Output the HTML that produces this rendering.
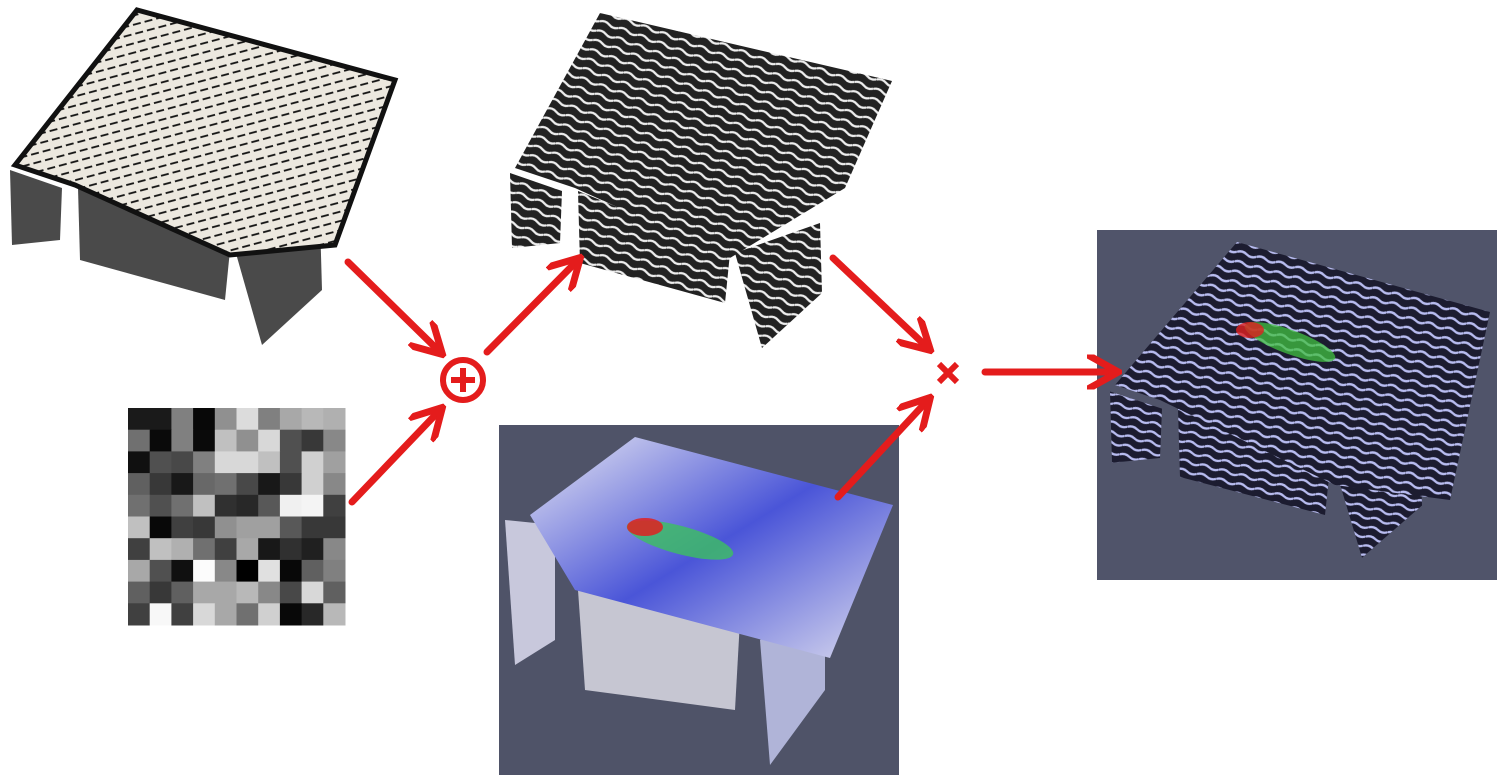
<!DOCTYPE html>
<html><head><meta charset="utf-8"><style>
html,body{margin:0;padding:0;background:#fff;width:1497px;height:775px;overflow:hidden;font-family:"Liberation Sans",sans-serif}
</style></head><body>
<svg width="1497" height="775" viewBox="0 0 1497 775">
<defs>
 <pattern id="lic" width="20" height="10" patternUnits="userSpaceOnUse" patternTransform="rotate(20)">
  <rect width="20" height="10" fill="#222"/>
  <path d="M0 3 Q5 0 10 3 T20 3" stroke="#eee" stroke-width="2.2" fill="none"/>
 </pattern>
 <pattern id="licb" width="20" height="10" patternUnits="userSpaceOnUse" patternTransform="rotate(15)">
  <rect width="20" height="10" fill="#1c1c30"/>
  <path d="M0 3 Q5 0 10 3 T20 3" stroke="#b8bcf0" stroke-width="2.4" fill="none"/>
 </pattern>
 <pattern id="vec" width="12" height="9" patternUnits="userSpaceOnUse" patternTransform="rotate(-15)">
  <rect width="12" height="9" fill="#ece8df"/>
  <path d="M2 4.5 L10 4.5" stroke="#111" stroke-width="1.8"/>
 </pattern>
 <linearGradient id="blu" x1="0" y1="0" x2="1" y2="1">
  <stop offset="0" stop-color="#e8e8f2"/><stop offset="0.5" stop-color="#4a55d8"/><stop offset="1" stop-color="#dcdcee"/>
 </linearGradient>
 <g id="box-shape">
  <polygon points="10,170 62,188 60,240 12,245"/>
  <polygon points="78,188 230,250 225,300 80,260"/>
  <polygon points="235,250 320,220 322,290 262,345"/>
 </g>
 <marker id="ah" viewBox="0 0 10 10" refX="8" refY="5" markerWidth="5" markerHeight="5" orient="auto">
  <path d="M0 0 L9 5 L0 10" fill="none" stroke="#e41c1c" stroke-width="2"/>
 </marker>
</defs>

<g>
 <use href="#box-shape" fill="#4a4a4a"/>
 <polygon points="15,165 137,10 395,80 335,245 230,255 75,185" fill="url(#vec)" stroke="#111" stroke-width="5"/>
</g>

<g id="noise"></g>

<g transform="translate(500,3)">
 <use href="#box-shape" fill="url(#lic)"/>
 <polygon points="15,165 100,10 392,78 345,185 230,255 75,185" fill="url(#lic)"/>
</g>

<g>
 <rect x="499" y="425" width="400" height="350" fill="#4f5368"/>
 <polygon points="505,520 555,525 555,640 515,665" fill="#c8c8dc"/>
 <polygon points="578,590 740,620 735,710 585,690" fill="#c6c6d2"/>
 <polygon points="760,640 825,600 825,690 770,765" fill="#b0b4d8"/>
 <polygon points="530,515 635,437 893,505 830,658 575,590" fill="url(#blu)"/>
 <ellipse cx="680" cy="540" rx="55" ry="14" fill="#3cc060" opacity="0.8" transform="rotate(15 680 540)"/>
 <ellipse cx="645" cy="527" rx="18" ry="9" fill="#e02020" opacity="0.85"/>
</g>

<g>
 <rect x="1097" y="230" width="400" height="350" fill="#50546a"/>
 <g transform="translate(1100,230) scale(1.0,0.95)">
  <use href="#box-shape" fill="url(#licb)"/>
 </g>
 <polygon points="1115,385 1237,242 1490,312 1450,500 1335,485 1160,400" fill="url(#licb)"/>
 <ellipse cx="1290" cy="342" rx="48" ry="12" fill="#40c040" opacity="0.75" transform="rotate(20 1290 342)"/>
 <ellipse cx="1250" cy="330" rx="14" ry="8" fill="#e02020" opacity="0.8"/>
</g>

<g stroke="#e41c1c" stroke-width="7" stroke-linecap="round" fill="none" marker-end="url(#ah)">
 <line x1="348" y1="262" x2="440" y2="352"/>
 <line x1="352" y1="502" x2="440" y2="410"/>
 <line x1="487" y1="352" x2="578" y2="260"/>
 <line x1="833" y1="258" x2="928" y2="348"/>
 <line x1="838" y1="497" x2="928" y2="400"/>
 <line x1="985" y1="372" x2="1115" y2="372"/>
</g>
<g>
 <circle cx="463" cy="380" r="20" fill="#fff" stroke="#e41c1c" stroke-width="6"/>
 <path d="M463 368 V392 M451 380 H475" stroke="#e41c1c" stroke-width="6"/>
</g>
<g>
 <path d="M939 364 L957 382 M957 364 L939 382" stroke="#e41c1c" stroke-width="6"/>
</g>
</svg>
<script>
const noiseRows = [
 [0x1a,0x1a,0x80,0x08,0x90,0xdc,0x80,0xa8,0xb8,0xb0],
 [0x70,0x0a,0x80,0x0a,0xc0,0x90,0xd8,0x50,0x38,0x88],
 [0x10,0x50,0x48,0x80,0xd8,0xd8,0xc0,0x50,0xd0,0xa0],
 [0x60,0x38,0x18,0x68,0x70,0x48,0x18,0x38,0xd0,0x88],
 [0x70,0x50,0x70,0xc0,0x30,0x28,0x58,0xf0,0xf4,0x40],
 [0xc0,0x08,0x40,0x38,0x90,0xa0,0xa0,0x58,0x38,0x38],
 [0x40,0xc0,0xb0,0x70,0x40,0xa8,0x18,0x30,0x20,0x88],
 [0xa8,0x50,0x10,0xfc,0x88,0x00,0xe0,0x08,0x60,0x80],
 [0x60,0x38,0x60,0xa8,0xa8,0xb8,0x88,0x48,0xd8,0x60],
 [0x40,0xf8,0x40,0xd8,0xa8,0x70,0xd0,0x08,0x28,0xb8]
];
const g = document.getElementById('noise');
const x0 = 128, y0 = 408, cell = 21.7;
noiseRows.forEach((row, r) => row.forEach((v, c) => {
  const el = document.createElementNS('http://www.w3.org/2000/svg', 'rect');
  el.setAttribute('x', x0 + c * cell);
  el.setAttribute('y', y0 + r * cell);
  el.setAttribute('width', cell + 0.5);
  el.setAttribute('height', cell + 0.5);
  el.setAttribute('fill', `rgb(${v},${v},${v})`);
  
  
  g.appendChild(el);
}));
</script>
</body></html>
